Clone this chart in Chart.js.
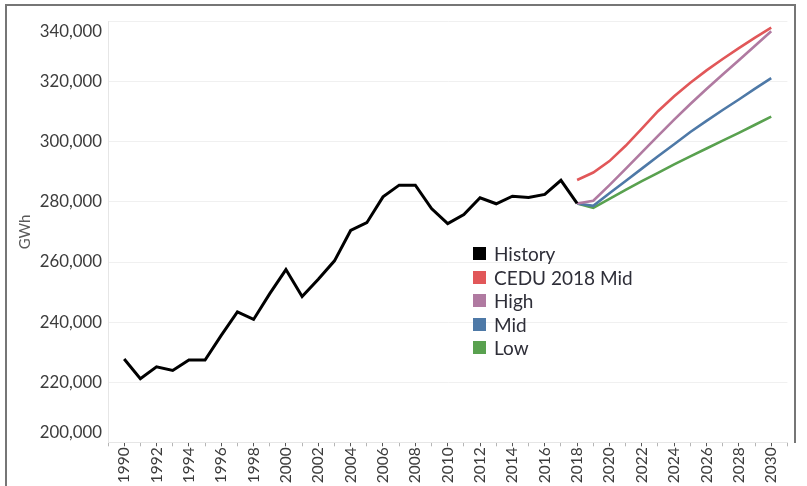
<!DOCTYPE html>
<html><head><meta charset="utf-8">
<script src="https://cdn.jsdelivr.net/npm/chart.js@4.4.1/dist/chart.umd.min.js"></script>
<style>
html,body{margin:0;padding:0;background:#fff;}
#wrap{position:relative;width:807px;height:486px;overflow:hidden;}
canvas{position:absolute;left:0;top:0;}
.frame{position:absolute;background:#767676;}
#legend{position:absolute;left:473px;top:242px;font-family:Lato,sans-serif;font-size:19px;color:#2e2e38;}
.item{display:flex;align-items:center;height:23.5px;white-space:nowrap;}
.sw{width:13px;height:13px;margin-right:8px;flex:none;}
</style></head><body>
<div id="wrap">
<canvas id="c" width="807" height="486"></canvas>
<div class="frame" style="left:5px;top:4px;width:2px;height:482px"></div>
<div class="frame" style="left:5px;top:4px;width:791px;height:2px"></div>
<div class="frame" style="left:794px;top:4px;width:2px;height:439px"></div>
<div id="legend"></div>
</div>
<script>
const historyYears = [1990,1991,1992,1993,1994,1995,1996,1997,1998,1999,2000,2001,2002,2003,2004,2005,2006,2007,2008,2009,2010,2011,2012,2013,2014,2015,2016,2017,2018];
const historyValues = [227700,221200,225100,223900,227400,227400,235600,243400,240900,249500,257500,248500,254300,260400,270500,273100,281700,285600,285600,277800,272800,275800,281400,279400,281900,281500,282500,287200,279500];
const projYears = [2018,2019,2020,2021,2022,2023,2024,2025,2026,2027,2028,2029,2030];
const cedu2018Mid = [287300,289800,293600,298700,304400,310200,315200,319700,323800,327600,331200,334700,338000];
const highValues = [279500,280400,285600,291000,296500,302000,307400,312600,317600,322400,327200,332000,336800];
const midValues = [279500,278700,282900,287000,291100,295200,299200,303300,307000,310600,314100,317700,321200];
const lowValues = [279500,278000,281000,284000,286900,289700,292500,295200,297800,300400,303000,305700,308400];
const seriesNames = ['History','CEDU 2018 Mid','High','Mid','Low'];
const seriesColors = ['#000000','#e15759','#b07aa1','#4e79a7','#59a14f'];
const yTickMin = 200000, yTickMax = 340000, yTickStep = 20000;

const pts = (xs, ys) => xs.map((x, i) => ({x, y: ys[i]}));
const seriesData = [pts(historyYears, historyValues), pts(projYears, cedu2018Mid), pts(projYears, highValues), pts(projYears, midValues), pts(projYears, lowValues)];

const fmt = v => Number(v).toLocaleString('en-US');
const tickFont = {family: 'Lato, sans-serif', size: 16.8};

const edgeLabels = {
  id: 'edgeLabels',
  afterDraw(chart) {
    const y = chart.scales.y, ctx = chart.ctx;
    ctx.save();
    ctx.font = '16.8px Lato, sans-serif';
    ctx.fillStyle = '#3c3c3c';
    ctx.textAlign = 'right';
    ctx.textBaseline = 'middle';
    [[yTickMin, -9.5], [yTickMax, 10]].forEach(([v, off]) => {
      ctx.fillText(fmt(v), y.right - 6, y.getPixelForValue(v) + off);
    });
    ctx.restore();
  }
};

const chart = new Chart(document.getElementById('c'), {
  type: 'line',
  data: {
    datasets: seriesData.map((d, i) => ({
      label: seriesNames[i],
      data: d,
      borderColor: seriesColors[i],
      backgroundColor: seriesColors[i],
      borderWidth: i === 0 ? 3 : 2.6,
      pointRadius: 0,
      tension: 0,
      fill: false
    }))
  },
  options: {
    responsive: false,
    devicePixelRatio: 1,
    animation: false,
    layout: {padding: {top: 21.7, right: 14, left: 0, bottom: 0}},
    plugins: {legend: {display: false}, tooltip: {enabled: false}},
    scales: {
      x: {
        type: 'linear', min: 1989, max: 2031,
        afterFit: s => { s.height = 43.7; },
        border: {color: '#e6e6e6', width: 1},
        grid: {drawOnChartArea: false, drawTicks: true, tickLength: 4, tickWidth: 1,
               tickColor: c => (c.tick && c.tick.value % 2 === 0) ? '#555555' : '#b5b5b5'},
        ticks: {stepSize: 1, autoSkip: false, maxRotation: 90, minRotation: 90, padding: 1,
                color: '#3c3c3c', font: {family: 'Lato, sans-serif', size: 15.5},
                callback: v => (v % 2 === 0 && v >= 1990 && v <= 2030) ? String(v) : ''}
      },
      y: {
        min: yTickMin, max: yTickMax,
        afterFit: s => { s.width = 108; },
        border: {color: '#e6e6e6', width: 1},
        grid: {color: '#f0f0f0', drawTicks: false},
        ticks: {stepSize: yTickStep, padding: 6, font: tickFont,
                color: c => (c.tick && (c.tick.value === yTickMin || c.tick.value === yTickMax)) ? 'rgba(0,0,0,0)' : '#3c3c3c',
                callback: v => fmt(v)},
        title: {display: true, text: 'GWh', color: '#5a5a5a', font: {family: 'Lato, sans-serif', size: 15}, padding: {top: 16.5, bottom: 0}}
      }
    }
  },
  plugins: [edgeLabels]
});

const legend = document.getElementById('legend');
chart.data.datasets.forEach(ds => {
  const it = document.createElement('div'); it.className = 'item';
  const sw = document.createElement('span'); sw.className = 'sw'; sw.style.background = ds.borderColor;
  const tx = document.createElement('span'); tx.textContent = ds.label;
  it.appendChild(sw); it.appendChild(tx); legend.appendChild(it);
});
</script>
</body></html>
